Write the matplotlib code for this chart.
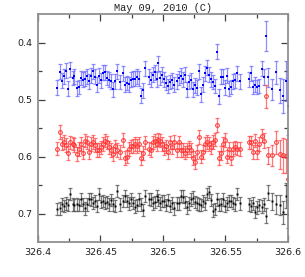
import matplotlib
matplotlib.use("Agg")
import matplotlib.pyplot as plt
from matplotlib.ticker import MultipleLocator, FixedLocator

title = "May 09, 2010 (C)"
x_ticks = [326.4, 326.45, 326.5, 326.55, 326.6]
x_ticklabels = ["326.4", "326.45", "326.5", "326.55", "326.6"]
y_ticks = [0.4, 0.5, 0.6, 0.7]
y_ticklabels = ["0.4", "0.5", "0.6", "0.7"]

hjd = [326.4152, 326.4178, 326.4194, 326.4210, 326.4223, 326.4239, 326.4255, 326.4279, 326.4293, 326.4311,
       326.4327, 326.4348, 326.4364, 326.4380, 326.4396, 326.4412, 326.4428, 326.4444, 326.4460, 326.4476,
       326.4492, 326.4508, 326.4524, 326.4540, 326.4556, 326.4572, 326.4588, 326.4604, 326.4620, 326.4636,
       326.4657, 326.4678, 326.4694, 326.4710, 326.4726, 326.4742, 326.4758, 326.4774, 326.4790, 326.4806,
       326.4822, 326.4838, 326.4859, 326.4886, 326.4902, 326.4918, 326.4934, 326.4950, 326.4965, 326.4981,
       326.4997, 326.5013, 326.5029, 326.5045, 326.5061, 326.5077, 326.5093, 326.5109, 326.5125, 326.5141,
       326.5157, 326.5173, 326.5189, 326.5205, 326.5221, 326.5237, 326.5253, 326.5269, 326.5290, 326.5306,
       326.5322, 326.5338, 326.5354, 326.5370, 326.5386, 326.5402, 326.5418, 326.5434, 326.5449, 326.5465,
       326.5481, 326.5497, 326.5513, 326.5529, 326.5545, 326.5561, 326.5577, 326.5593, 326.5614, 326.5689,
       326.5705, 326.5721, 326.5737, 326.5753, 326.5769, 326.5795, 326.5811, 326.5827, 326.5843, 326.5870,
       326.5902, 326.5934, 326.5960, 326.5981, 326.5999]

blue = [0.479, 0.451, 0.467, 0.459, 0.449, 0.481, 0.447, 0.462, 0.459, 0.480,
        0.478, 0.462, 0.465, 0.463, 0.459, 0.468, 0.458, 0.450, 0.460, 0.474,
        0.458, 0.466, 0.453, 0.452, 0.462, 0.465, 0.468, 0.482, 0.468, 0.450,
        0.469, 0.454, 0.474, 0.471, 0.473, 0.465, 0.463, 0.463, 0.460, 0.463,
        0.493, 0.484, 0.445, 0.460, 0.465, 0.456, 0.452, 0.464, 0.436, 0.462,
        0.456, 0.464, 0.471, 0.476, 0.469, 0.466, 0.474, 0.468, 0.462, 0.458,
        0.464, 0.456, 0.482, 0.469, 0.466, 0.482, 0.475, 0.479, 0.450, 0.491,
        0.474, 0.454, 0.444, 0.456, 0.464, 0.469, 0.476, 0.416, 0.494, 0.460,
        0.460, 0.479, 0.458, 0.481, 0.478, 0.468, 0.466, 0.454, 0.468, 0.464,
        0.454, 0.478, 0.474, 0.478, 0.476, 0.446, 0.461, 0.388, 0.461, 0.482,
        0.452, 0.484, 0.493, 0.468, 0.512]

red = [0.586, 0.557, 0.577, 0.574, 0.580, 0.594, 0.575, 0.577, 0.580, 0.596,
       0.587, 0.578, 0.593, 0.572, 0.575, 0.592, 0.578, 0.574, 0.580, 0.588,
       0.588, 0.584, 0.578, 0.572, 0.575, 0.584, 0.588, 0.596, 0.582, 0.588,
       0.592, 0.571, 0.602, 0.600, 0.587, 0.582, 0.581, 0.578, 0.581, 0.578,
       0.602, 0.594, 0.575, 0.586, 0.588, 0.575, 0.572, 0.578, 0.570, 0.572,
       0.578, 0.586, 0.582, 0.592, 0.575, 0.584, 0.574, 0.588, 0.575, 0.588,
       0.588, 0.593, 0.588, 0.584, 0.588, 0.602, 0.609, 0.592, 0.565, 0.600,
       0.592, 0.578, 0.574, 0.578, 0.584, 0.574, 0.570, 0.544, 0.602, 0.594,
       0.578, 0.571, 0.600, 0.587, 0.602, 0.587, 0.584, 0.586, 0.587, 0.575,
       0.575, 0.592, 0.572, 0.592, 0.578, 0.563, 0.572, 0.494, 0.598, 0.598,
       0.575, 0.596, 0.598, 0.599, 0.640]

black = [0.692, 0.691, 0.684, 0.687, 0.682, 0.685, 0.666, 0.684, 0.685, 0.684,
         0.685, 0.675, 0.684, 0.691, 0.684, 0.674, 0.675, 0.681, 0.678, 0.687,
         0.666, 0.680, 0.678, 0.681, 0.680, 0.684, 0.676, 0.684, 0.687, 0.660,
         0.684, 0.678, 0.669, 0.678, 0.682, 0.675, 0.681, 0.688, 0.685, 0.675,
         0.684, 0.694, 0.669, 0.674, 0.675, 0.682, 0.680, 0.669, 0.676, 0.682,
         0.678, 0.678, 0.685, 0.676, 0.687, 0.681, 0.691, 0.682, 0.682, 0.669,
         0.670, 0.680, 0.689, 0.682, 0.675, 0.672, 0.680, 0.682, 0.684, 0.685,
         0.678, 0.682, 0.666, 0.662, 0.676, 0.695, 0.692, 0.675, 0.685, 0.684,
         0.675, 0.687, 0.682, 0.678, 0.678, 0.681, 0.684, 0.666, 0.682, 0.684,
         0.687, 0.682, 0.697, 0.689, 0.685, 0.688, 0.684, 0.704, 0.663, 0.678,
         0.684, 0.685, 0.698, 0.669, 0.701]

blue_err = [0.013] * 95 + [0.013, 0.014, 0.026, 0.016, 0.018, 0.020, 0.022, 0.030, 0.035, 0.050]
red_err = [0.012] * 95 + [0.012, 0.013, 0.020, 0.015, 0.018, 0.020, 0.025, 0.030, 0.030, 0.040]
black_err = [0.011] * 95 + [0.011, 0.012, 0.013, 0.013, 0.015, 0.016, 0.018, 0.020, 0.022, 0.025]

fig = plt.figure(figsize=(3.05, 2.77), dpi=100)
ax = fig.add_axes([0.124, 0.126, 0.820, 0.823])

ax.errorbar(hjd, blue, yerr=blue_err, fmt='none', ecolor='#6a6aff', elinewidth=0.9,
            capsize=1.7, capthick=0.9, alpha=0.75)
ax.plot(hjd, blue, 's', color='#0000ff', ms=2.1, mew=0)

ax.errorbar(hjd, red, yerr=red_err, fmt='none', ecolor='#ff4a4a', elinewidth=0.9,
            capsize=1.7, capthick=0.9, alpha=0.75)
ax.plot(hjd, red, 'o', mfc='none', mec='#ff3030', ms=2.7, mew=0.7)

ax.errorbar(hjd, black, yerr=black_err, fmt='none', ecolor='#505050', elinewidth=0.9,
            capsize=1.7, capthick=0.9, alpha=0.75)
ax.plot(hjd, black, 's', color='#000000', ms=1.4, mew=0)

ax.set_xlim(326.4, 326.6)
ax.set_ylim(0.75, 0.35)
ax.set_xticks(x_ticks)
ax.set_xticklabels(x_ticklabels)
ax.set_yticks(y_ticks)
ax.set_yticklabels(y_ticklabels)
ax.xaxis.set_minor_locator(MultipleLocator(0.025))
ax.yaxis.set_minor_locator(FixedLocator([0.45, 0.55, 0.65]))

ax.tick_params(which='both', direction='in', top=True, right=True,
               color='#404040', labelsize=6.8, labelcolor='#202020', pad=4)
ax.tick_params(which='major', length=5, width=0.9)
ax.tick_params(which='minor', length=3, width=0.9)
for s in ax.spines.values():
    s.set_color('#909090')
    s.set_linewidth(1.3)

ax.set_title(title, fontsize=7.4, family=['Liberation Mono', 'DejaVu Sans Mono'],
             pad=2, color='#202020')

fig.savefig("out.png", dpi=100)
